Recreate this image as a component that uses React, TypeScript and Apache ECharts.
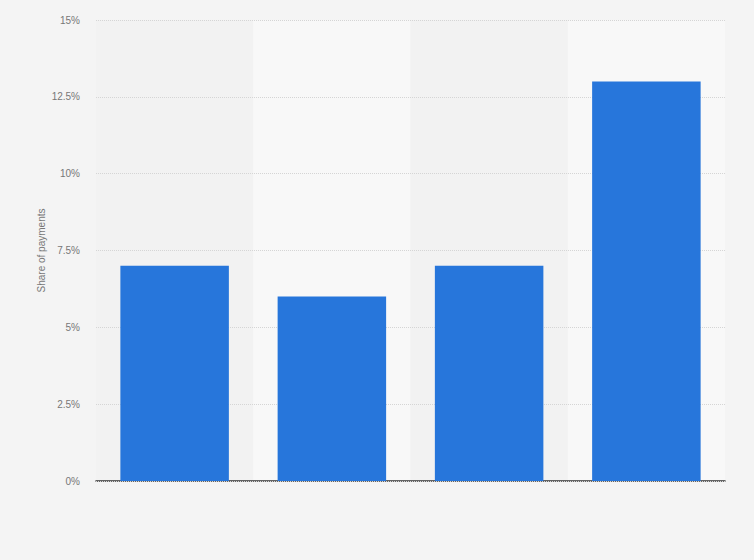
import { useRef, useEffect } from "react";
import * as echarts from "echarts";

// categories are not labelled in the chart
const categories = ["A", "B", "C", "D"];
const shareValues = [7, 6, 7, 13];
const yTicks = [0, 2.5, 5, 7.5, 10, 12.5, 15];

const App = () => {
  const chartRef = useRef<HTMLDivElement>(null);

  useEffect(() => {
    document.body.style.margin = "0";
    const chart = echarts.init(chartRef.current, null, { renderer: "svg" });

    chart.setOption({
      animation: false,
      backgroundColor: "#f4f4f4",
      textStyle: { fontFamily: "Arial, 'Liberation Sans', sans-serif" },
      grid: { left: 96, right: 29, top: 20, bottom: 79 },
      xAxis: {
        type: "category",
        data: categories,
        z: 0,
        axisLabel: { show: false },
        axisTick: { show: false },
        axisLine: { lineStyle: { color: "#333", width: 1.5 } },
        splitArea: {
          show: true,
          areaStyle: { color: ["#f2f2f2", "#f8f8f8"] },
        },
      },
      yAxis: {
        type: "value",
        z: 1,
        min: yTicks[0],
        max: yTicks[yTicks.length - 1],
        interval: 2.5,
        name: "Share of payments",
        nameLocation: "middle",
        nameGap: 50,
        nameMoveOverlap: false,
        nameTextStyle: { color: "#777", fontSize: 10 },
        axisLine: { show: false },
        axisTick: { show: false },
        axisLabel: {
          color: "#777",
          fontSize: 10,
          margin: 16,
          formatter: (v: number) => v + "%",
        },
        splitLine: {
          lineStyle: { color: "#d5d5d5", type: [1, 1] },
        },
      },
      series: [
        {
          type: "bar",
          data: shareValues,
          barWidth: "69%",
          z: 2,
          itemStyle: { color: "#2776db" },
        },
      ],
    });

    return () => {
      chart.dispose();
    };
  }, []);

  return <div ref={chartRef} style={{ width: "754px", height: "560px" }}></div>;
};

export default App;
